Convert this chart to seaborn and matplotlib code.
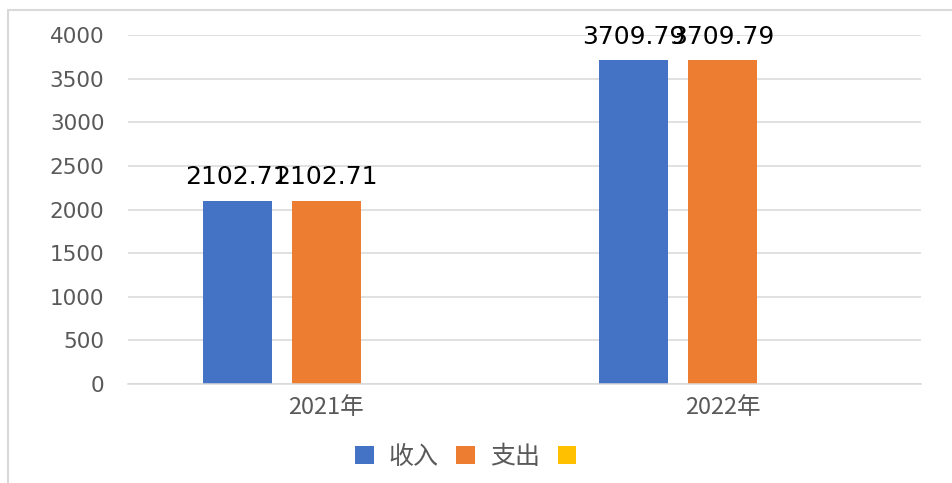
import pandas as pd
import matplotlib
matplotlib.use("Agg")
import matplotlib.pyplot as plt
from matplotlib.patches import Patch, Rectangle
import seaborn as sns

# --- data ---
years = ["2021年", "2022年"]
series = ["收入", "支出", " "]          # third series is empty in the source chart
income = [2102.71, 3709.79]
expense = [2102.71, 3709.79]

COLORS = {"收入": "#4472C4", "支出": "#ED7D31", " ": "#FFC000"}

df = pd.DataFrame({
    "year": years * 2,
    "series": ["收入"] * len(years) + ["支出"] * len(years),
    "value": income + expense,
})

sns.set_style("white")
plt.rcParams["font.family"] = ["DejaVu Sans", "Noto Sans CJK SC"]
cjk = ["Noto Sans CJK SC", "DejaVu Sans"]

fig = plt.figure(figsize=(9.52, 4.83), dpi=100)
ax = fig.add_axes([0.1345, 0.205, 0.833, 0.7225])

sns.barplot(data=df, x="year", y="value", hue="series", hue_order=series,
            order=years, palette=COLORS, width=0.673, gap=0.225,
            errorbar=None, legend=False, ax=ax, saturation=1, linewidth=0)

for c in ax.containers:
    ax.bar_label(c, fmt="%.2f", padding=8, fontsize=18, color="#000000")

ax.set_ylim(0, 4000)
ax.set_yticks(range(0, 4001, 500))
ax.set_xlabel("")
ax.set_ylabel("")
ax.grid(True, axis="y", color="#D9D9D9", linewidth=1.1)
ax.set_axisbelow(True)
for s in ["top", "right", "left"]:
    ax.spines[s].set_visible(False)
ax.spines["bottom"].set_color("#D9D9D9")
ax.spines["bottom"].set_linewidth(1.1)
ax.tick_params(axis="both", length=0)
ax.tick_params(axis="y", pad=17, labelsize=15.5, labelcolor="#595959")
ax.tick_params(axis="x", pad=9, labelcolor="#595959")
for lab in ax.get_xticklabels():
    lab.set_family(cjk)
    lab.set_fontsize(17)

handles = [Patch(facecolor=COLORS[s], edgecolor="none", label=s) for s in series]
leg = fig.legend(handles=handles, loc="center", bbox_to_anchor=(0.5, 0.054),
                 ncol=3, frameon=False, handlelength=0.75, handleheight=0.75,
                 handletextpad=0.6, columnspacing=0.7,
                 prop={"family": cjk, "size": 18})
for t in leg.get_texts():
    t.set_color("#595959")

# chart border (cropped at right and bottom in the source)
fig.patches.append(Rectangle((8 / 952, -0.02), 1.05, 0.979 + 0.02,
                             transform=fig.transFigure, fill=False,
                             edgecolor="#D9D9D9", linewidth=1.5))

fig.savefig("out.png", dpi=100)
